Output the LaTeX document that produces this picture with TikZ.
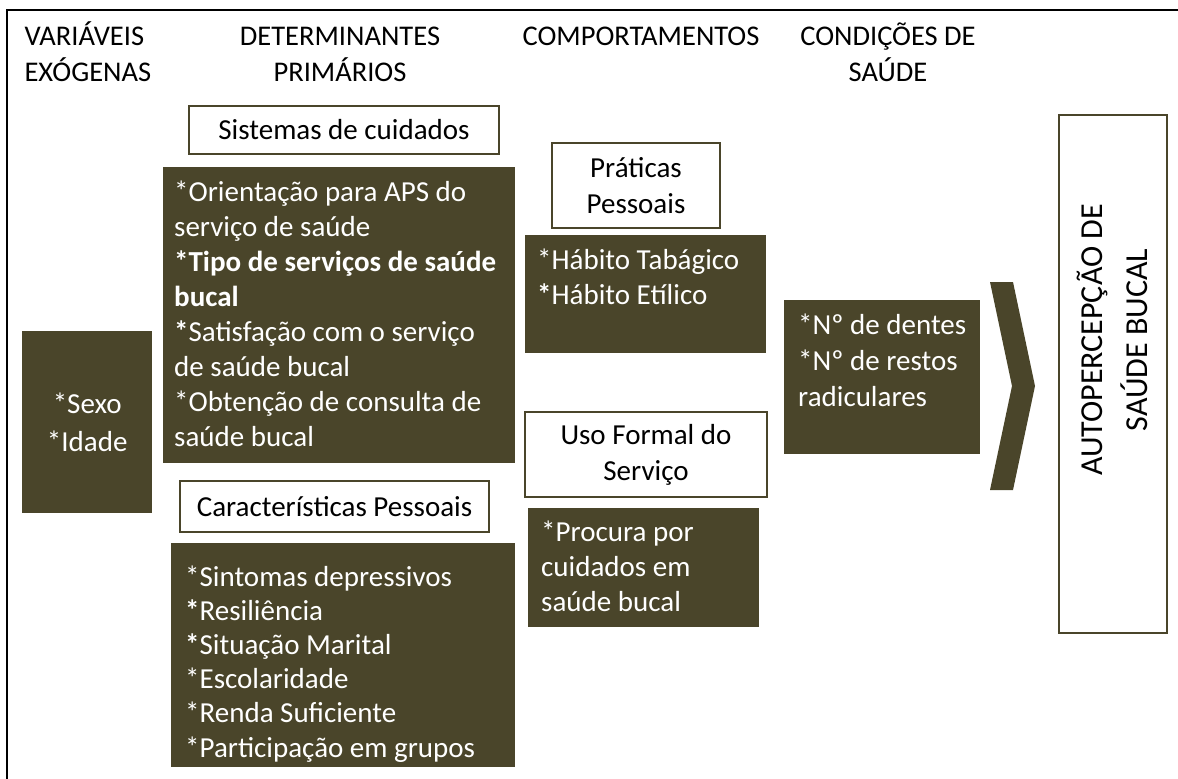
\documentclass[tikz,border=0pt]{standalone}
\usepackage{fontspec}
\setmainfont{Carlito}
\definecolor{oliva}{RGB}{74,69,42}

\begin{document}
\begin{tikzpicture}[x=1pt,y=-1pt,
  cabec/.style={align=center,anchor=base,font=\fontsize{28.5}{36}\selectfont},
  titulo/.style={draw=oliva,line width=2,fill=white,align=center,inner sep=0,font=\fontsize{29}{36}\selectfont},
  caixa/.style={fill=oliva,anchor=north west,inner sep=0},
  itens/.style={text=white,align=left,anchor=base west,inner sep=0,font=\fontsize{29}{35}\selectfont}]
\useasboundingbox (0,0) rectangle (1178,779);

% Moldura
\draw[line width=2.5] (7,779) -- (7,10) -- (1178,10);

% Cabecalhos (ancorados na ultima linha)
\node[cabec,align=left,anchor=base west] (exog) at (21,81) {VARIÁVEIS\\EXÓGENAS};
\node[cabec] (prim) at (340,81) {DETERMINANTES\\PRIMÁRIOS};
\node[cabec] (comp) at (641,45) {COMPORTAMENTOS};
\node[cabec] (cond) at (888,81) {CONDIÇÕES DE\\SAÚDE};

% Variaveis exogenas
\node[caixa,minimum width=130,minimum height=182] (sexo) at (22,331) {};
\node[itens,align=center,anchor=center,font=\fontsize{29}{38}\selectfont] (sexotxt) at (sexo.center) {*Sexo\\*Idade};

% Sistemas de cuidados
\node[titulo,minimum width=310,minimum height=48] (sist) at (344,130) {Sistemas de cuidados};
\node[caixa,minimum width=352,minimum height=296] (sistcx) at (163,167) {};
\node[itens] (sisttxt) at (174,446) {*Orientação para APS do\\serviço de saúde\\\textbf{*Tipo de serviços de saúde}\\\textbf{bucal}\\\textbf{*}Satisfação com o serviço\\de saúde bucal\\*Obtenção de consulta de\\saúde bucal};

% Caracteristicas pessoais
\node[titulo,minimum width=309,minimum height=51] (pess) at (334.5,506.5) {Características Pessoais};
\node[caixa,minimum width=344,minimum height=224] (pesscx) at (171,543) {};
\node[itens,font=\fontsize{29}{34.2}\selectfont] (pesstxt) at (185,757) {*Sintomas depressivos\\\textbf{*}Resiliência\\\textbf{*}Situação Marital\\*Escolaridade\\*Renda Suficiente\\*Participação em grupos};

% Comportamentos
\node[titulo,minimum width=168,minimum height=85] (prat) at (636,185.5) {Práticas\\Pessoais};
\node[caixa,minimum width=241,minimum height=118] (habcx) at (525,235) {};
\node[itens] (habtxt) at (537,304) {*Hábito Tabágico\\\textbf{*}Hábito Etílico};
\node[titulo,minimum width=242,minimum height=85] (uso) at (646,454.5) {Uso Formal do\\Serviço};
\node[caixa,minimum width=231,minimum height=119] (procx) at (528,508) {};
\node[itens] (protxt) at (541,611) {*Procura por\\cuidados em\\saúde bucal};

% Condicoes de saude
\node[caixa,minimum width=196,minimum height=154] (condcx) at (784,300) {};
\node[itens,font=\fontsize{29}{36}\selectfont] (condtxt) at (798,406) {*Nº de dentes\\*Nº de restos\\radiculares};

% Seta
\fill[oliva] (990,282) -- (1013,282) -- (1035,386) -- (1013,490) -- (990,490) -- (1012,386) -- cycle;

% Desfecho
\node[titulo,minimum width=108,minimum height=518] (auto) at (1113,374) {};
\node[rotate=90,align=center,font=\fontsize{32}{45}\selectfont] (autotxt) at (1112,340) {AUTOPERCEPÇÃO DE\\SAÚDE BUCAL};
\end{tikzpicture}
\end{document}
